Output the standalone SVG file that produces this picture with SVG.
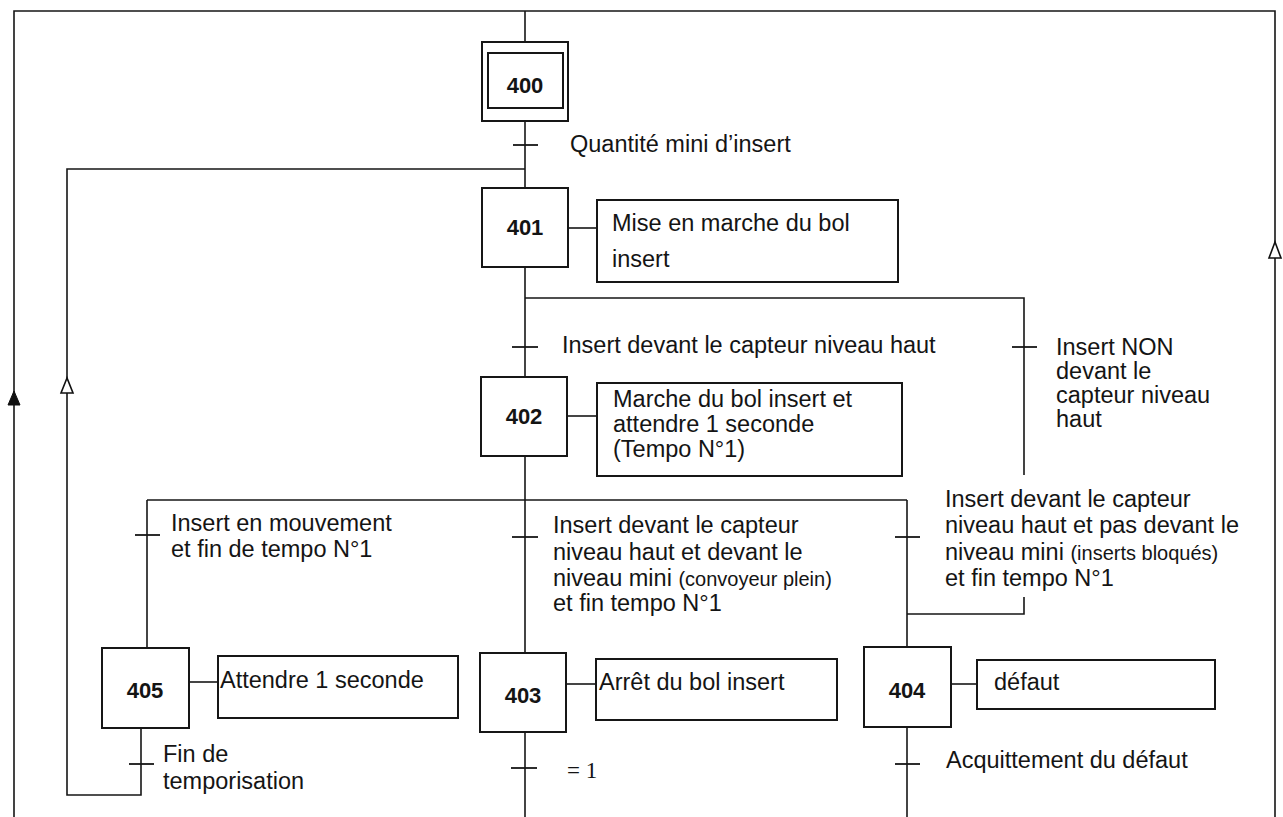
<svg xmlns="http://www.w3.org/2000/svg" width="1283" height="817" viewBox="0 0 1283 817">
<style>
.bg{fill:#ffffff}
.ln{fill:none;stroke:#161616;stroke-width:1.6}
.bx{fill:#ffffff;stroke:#161616;stroke-width:2}
.tk{stroke:#161616;stroke-width:1.8}
.t{font-family:"Liberation Sans",Arial,sans-serif;font-size:23.5px;fill:#141414}
.sm{font-size:20px}
.num{font-family:"Liberation Sans",Arial,sans-serif;font-size:22px;font-weight:bold;fill:#141414;text-anchor:middle}
.ser{font-family:"Liberation Serif","Times New Roman",serif;font-size:23px;fill:#141414}
.af{fill:#111111;stroke:#111111;stroke-width:1}
.ah{fill:#ffffff;stroke:#111111;stroke-width:1.6}
</style>
<rect class="bg" x="0" y="0" width="1283" height="817"/>

<g id="connectors">
  <!-- outer frame -->
  <polyline class="ln" points="14,817 14,11 1275,11 1275,817"/>
  <polygon class="af" points="14,391 8,405 20,405"/>
  <polygon class="ah" points="1275,242 1269,258 1281,258"/>
  <!-- main spine -->
  <line class="ln" x1="525" y1="11" x2="525" y2="42"/>
  <line class="ln" x1="525" y1="121" x2="525" y2="188"/>
  <line class="tk" x1="513" y1="145" x2="538" y2="145"/>
  <!-- loop back from 405 -->
  <polyline class="ln" points="525,169 67,169 67,795 141,795 141,728"/>
  <polygon class="ah" points="67,378 61,393 73,393"/>
  <line class="tk" x1="129" y1="764" x2="154" y2="764"/>
  <!-- 401 -> 402 and alternative -->
  <line class="ln" x1="568" y1="228" x2="597" y2="228"/>
  <line class="ln" x1="525" y1="267" x2="525" y2="377"/>
  <line class="tk" x1="512" y1="347" x2="538" y2="347"/>
  <polyline class="ln" points="525,298 1024,298 1024,475"/>
  <line class="tk" x1="1012" y1="347" x2="1037" y2="347"/>
  <polyline class="ln" points="1024,597 1024,614 907,614"/>
  <!-- 402 divergence -->
  <line class="ln" x1="567" y1="416" x2="597" y2="416"/>
  <line class="ln" x1="525" y1="456" x2="525" y2="653"/>
  <line class="ln" x1="147" y1="500" x2="907" y2="500"/>
  <line class="ln" x1="147" y1="500" x2="147" y2="648"/>
  <line class="ln" x1="907" y1="500" x2="907" y2="647"/>
  <line class="tk" x1="135" y1="535" x2="160" y2="535"/>
  <line class="tk" x1="512" y1="537" x2="538" y2="537"/>
  <line class="tk" x1="895" y1="537" x2="920" y2="537"/>
  <!-- action links -->
  <line class="ln" x1="189" y1="682" x2="218" y2="682"/>
  <line class="ln" x1="566" y1="684" x2="596" y2="684"/>
  <line class="ln" x1="951" y1="684" x2="977" y2="684"/>
  <!-- exits -->
  <line class="ln" x1="525" y1="732" x2="525" y2="817"/>
  <line class="tk" x1="511" y1="768" x2="537" y2="768"/>
  <line class="ln" x1="907" y1="727" x2="907" y2="817"/>
  <line class="tk" x1="895" y1="764" x2="920" y2="764"/>
</g>

<g id="step400">
  <rect class="bx" x="482" y="42" width="86" height="79"/>
  <rect class="bx" x="488" y="53" width="75" height="55"/>
  <text class="num" x="525" y="93">400</text>
</g>

<g id="t400">
  <text class="t" x="570" y="152">Quantité mini d’insert</text>
</g>

<g id="step401">
  <rect class="bx" x="482" y="188" width="86" height="79"/>
  <text class="num" x="525" y="235">401</text>
  <rect class="bx" x="597" y="200" width="301" height="82"/>
  <text class="t" x="612" y="231">Mise en marche du bol</text>
  <text class="t" x="612" y="267">insert</text>
</g>

<g id="t401a">
  <text class="t" x="562" y="353">Insert devant le capteur niveau haut</text>
</g>

<g id="t401b">
  <text class="t" x="1056" y="355">Insert NON</text>
  <text class="t" x="1056" y="379">devant le</text>
  <text class="t" x="1056" y="403">capteur niveau</text>
  <text class="t" x="1056" y="427">haut</text>
</g>

<g id="step402">
  <rect class="bx" x="481" y="377" width="86" height="79"/>
  <text class="num" x="524" y="424">402</text>
  <rect class="bx" x="597" y="383" width="305" height="93"/>
  <text class="t" x="613" y="407">Marche du bol insert et</text>
  <text class="t" x="613" y="432">attendre 1 seconde</text>
  <text class="t" x="613" y="457">(Tempo N°1)</text>
</g>

<g id="t402a">
  <text class="t" x="171" y="531">Insert en mouvement</text>
  <text class="t" x="171" y="557">et fin de tempo N°1</text>
</g>

<g id="t402b">
  <text class="t" x="553" y="533">Insert devant le capteur</text>
  <text class="t" x="553" y="560">niveau haut et devant le</text>
  <text class="t" x="553" y="586">niveau mini <tspan class="sm">(convoyeur plein)</tspan></text>
  <text class="t" x="553" y="611">et fin tempo N°1</text>
</g>

<g id="t402c">
  <text class="t" x="945" y="507">Insert devant le capteur</text>
  <text class="t" x="945" y="533">niveau haut et pas devant le</text>
  <text class="t" x="945" y="560">niveau mini <tspan class="sm">(inserts bloqués)</tspan></text>
  <text class="t" x="945" y="586">et fin tempo N°1</text>
</g>

<g id="step405">
  <rect class="bx" x="102" y="648" width="87" height="80"/>
  <text class="num" x="145" y="698">405</text>
  <rect class="bx" x="218" y="656" width="240" height="62"/>
  <text class="t" x="220" y="688">Attendre 1 seconde</text>
</g>

<g id="t405">
  <text class="t" x="163" y="762">Fin de</text>
  <text class="t" x="163" y="789">temporisation</text>
</g>

<g id="step403">
  <rect class="bx" x="480" y="653" width="86" height="79"/>
  <text class="num" x="523" y="703">403</text>
  <rect class="bx" x="596" y="659" width="241" height="61"/>
  <text class="t" x="599" y="690">Arrêt du bol insert</text>
</g>

<g id="t403">
  <text class="ser" x="567" y="778">= 1</text>
</g>

<g id="step404">
  <rect class="bx" x="864" y="647" width="87" height="80"/>
  <text class="num" x="907" y="698">404</text>
  <rect class="bx" x="977" y="660" width="238" height="49"/>
  <text class="t" x="994" y="690">défaut</text>
</g>

<g id="t404">
  <text class="t" x="946" y="768">Acquittement du défaut</text>
</g>
</svg>
